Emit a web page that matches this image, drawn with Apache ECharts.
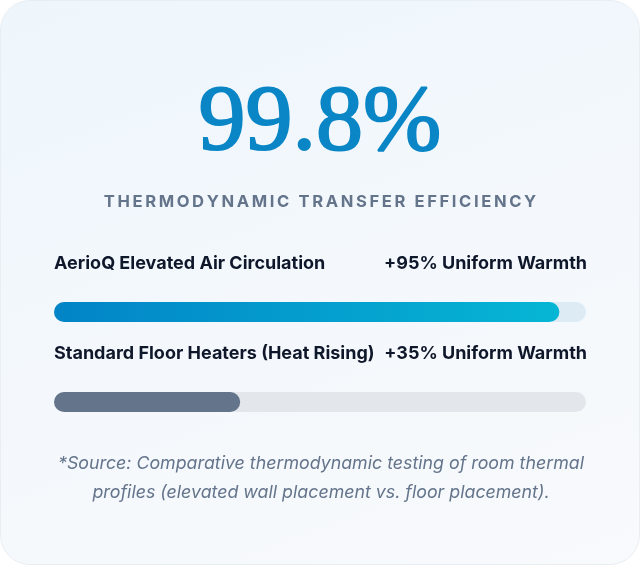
<!DOCTYPE html>
<html>
<head>
<meta charset="utf-8">
<script src="https://cdn.jsdelivr.net/npm/echarts@6/dist/echarts.min.js"></script>
<style>
  html, body { margin: 0; padding: 0; background: #ffffff; }
  #card {
    width: 638px; height: 563px;
    border: 1px solid #e9eef3;
    border-radius: 30px;
    background: linear-gradient(160deg, #eef6fc 0%, #f4f8fc 55%, #f8fafc 100%);
    overflow: hidden;
  }
  #main { width: 638px; height: 563px; }
</style>
</head>
<body>
<div id="card"><div id="main"></div></div>
<script>
var headlineValue = 99.8;
var headlineLabel = 'THERMODYNAMIC TRANSFER EFFICIENCY';
var categories = ['AerioQ Elevated Air Circulation', 'Standard Floor Heaters (Heat Rising)'];
var warmthValues = [95, 35];
var trackMax = [100, 100];
var footnote = '*Source: Comparative thermodynamic testing of room thermal\nprofiles (elevated wall placement vs. floor placement).';

var chart = echarts.init(document.getElementById('main'), null, { renderer: 'canvas' });

// spread letters a bit, echarts has no letterSpacing
function spaced(s) {
  return s.split('').join('\u2009');
}

var trackColors = ['#dcebf4', '#e3e7ec'];
var fillColors = [
  new echarts.graphic.LinearGradient(0, 0, 1, 0, [
    { offset: 0, color: '#0284c7' },
    { offset: 1, color: '#06b6d4' }
  ]),
  '#64748b'
];

var labelFont = { fontFamily: 'Inter', fontWeight: 'bold', fontSize: 18, color: '#0f172a' };

var option = {
  animation: false,
  title: [
    {
      text: headlineValue + '%',
      left: 'center',
      top: 71,
      textStyle: {
        fontFamily: 'Liberation Serif',
        fontWeight: 'normal',
        fontSize: 94,
        color: '#0a86c6',
        textBorderColor: '#0a86c6',
        textBorderWidth: 2
      }
    },
    {
      text: spaced(headlineLabel),
      left: 'center',
      top: 187,
      textStyle: {
        fontFamily: 'Inter',
        fontWeight: 'bold',
        fontSize: 16.6,
        color: '#64748b'
      }
    }
  ],
  graphic: [
    {
      type: 'text',
      x: 320,
      y: 448,
      style: {
        text: footnote,
        align: 'center',
        verticalAlign: 'top',
        fontFamily: 'Inter',
        fontStyle: 'italic',
        fontSize: 17.8,
        lineHeight: 29,
        fill: '#64748b'
      }
    }
  ],
  grid: { left: 53, right: 53, top: 266, height: 180 },
  xAxis: { type: 'value', min: 0, max: 100, show: false },
  yAxis: {
    type: 'category',
    inverse: true,
    data: categories,
    show: false
  },
  series: [
    {
      type: 'bar',
      barWidth: 20,
      silent: true,
      data: trackMax.map(function (v, i) {
        return { value: v, itemStyle: { color: trackColors[i] } };
      }),
      itemStyle: { borderRadius: 10 },
      label: {
        show: true,
        position: [0, -38],
        align: 'left',
        verticalAlign: 'middle',
        formatter: function (p) {
          return '{a|' + categories[p.dataIndex] + '}{b|+' + warmthValues[p.dataIndex] + '% Uniform Warmth}';
        },
        rich: {
          a: Object.assign({ width: 330, align: 'left' }, labelFont),
          b: Object.assign({ width: 203, align: 'right' }, labelFont)
        }
      }
    },
    {
      type: 'bar',
      barWidth: 20,
      barGap: '-100%',
      data: warmthValues.map(function (v, i) {
        return { value: v, itemStyle: { color: fillColors[i] } };
      }),
      itemStyle: { borderRadius: 10 }
    }
  ]
};

chart.setOption(option);
</script>
</body>
</html>
